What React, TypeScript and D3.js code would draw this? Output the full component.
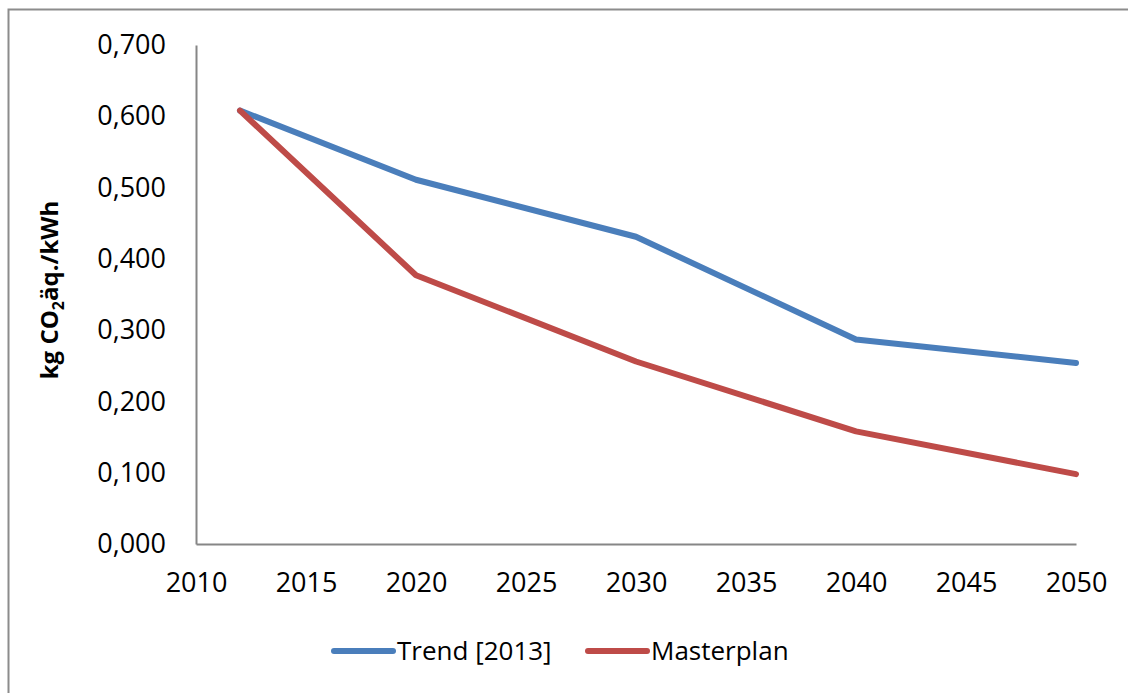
import React, { useEffect, useRef } from 'react';
import * as d3 from 'd3';

// chart values
const years = [2012, 2020, 2030, 2040, 2050];
const trendValues = [0.608, 0.511, 0.431, 0.287, 0.254];
const masterplanValues = [0.608, 0.377, 0.256, 0.158, 0.098];
const xTicks = [2010, 2015, 2020, 2025, 2030, 2035, 2040, 2045, 2050];
const yTicks = [0, 0.1, 0.2, 0.3, 0.4, 0.5, 0.6, 0.7];
const seriesNames = ['Trend [2013]', 'Masterplan'];
const seriesColors = ['#4A7EBB', '#BE4B48'];

const W = 1128;
const H = 693;
const FONT = '"Open Sans", "Liberation Sans", sans-serif';

const App: React.FC = () => {
  const svgRef = useRef<SVGSVGElement>(null);

  useEffect(() => {
    if (!svgRef.current) return;
    const svg = d3.select(svgRef.current);
    svg.selectAll('*').remove();

    const margin = { top: 45, right: 52, bottom: 149, left: 196 };

    const x = d3.scaleLinear().domain([2010, 2050]).range([margin.left, W - margin.right]);
    const y = d3.scaleLinear().domain([0, 0.7]).range([H - margin.bottom, margin.top]);

    // outer chart frame (cropped on right/bottom)
    svg.append('rect')
      .attr('x', 8.5)
      .attr('y', 9.5)
      .attr('width', W + 20)
      .attr('height', H + 20)
      .style('fill', 'white')
      .style('stroke', '#8c8c8c')
      .style('stroke-width', 2);

    const fmt = (v: number) => v.toFixed(3).replace('.', ',');

    // y axis
    const yAxis = d3.axisLeft(y).tickValues(yTicks).tickSize(0).tickPadding(30).tickFormat(d => fmt(+d));
    const gy = svg.append('g').attr('transform', `translate(${margin.left},0)`).call(yAxis);
    gy.select('.domain').attr('stroke', '#868686').attr('stroke-width', 2);
    gy.selectAll('text')
      .style('font-family', FONT)
      .style('font-size', '27px')
      .style('fill', '#000');

    // x axis
    const xAxis = d3.axisBottom(x).tickValues(xTicks).tickSize(0).tickPadding(39).tickFormat(d3.format('d'));
    const gx = svg.append('g').attr('transform', `translate(0,${H - margin.bottom})`).call(xAxis);
    gx.select('.domain').attr('stroke', '#868686').attr('stroke-width', 2);
    gx.selectAll('text')
      .attr('dy', '0.35em')
      .style('font-family', FONT)
      .style('font-size', '27px')
      .style('fill', '#000');

    // y axis title
    const title = svg.append('text')
      .attr('transform', `translate(58, 290) rotate(-90)`)
      .attr('text-anchor', 'middle')
      .style('font-family', FONT)
      .style('font-size', '24px')
      .style('font-weight', 'bold')
      .style('fill', '#000');
    title.append('tspan').text('kg CO');
    title.append('tspan').attr('dy', 6).style('font-size', '16px').text('2');
    title.append('tspan').attr('dy', -6).text('äq./kWh');

    // lines
    const line = d3.line<[number, number]>()
      .x(d => x(d[0]))
      .y(d => y(d[1]));

    [trendValues, masterplanValues].forEach((vals, i) => {
      svg.append('path')
        .datum(years.map((yr, j) => [yr, vals[j]] as [number, number]))
        .attr('d', line)
        .style('fill', 'none')
        .style('stroke', seriesColors[i])
        .style('stroke-width', 6)
        .style('stroke-linecap', 'round')
        .style('stroke-linejoin', 'round');
    });

    // legend
    const legendY = 651;
    const legendX = [334, 588];
    seriesNames.forEach((name, i) => {
      const g = svg.append('g').attr('transform', `translate(${legendX[i]},${legendY})`);
      g.append('line')
        .attr('x1', 0)
        .attr('x2', 59)
        .style('stroke', seriesColors[i])
        .style('stroke-width', 6)
        .style('stroke-linecap', 'round');
      g.append('text')
        .attr('x', 63)
        .attr('dy', '0.35em')
        .style('font-family', FONT)
        .style('font-size', '26px')
        .style('fill', '#000')
        .text(name);
    });
  }, []);

  return (
    <svg
      ref={svgRef}
      width={W}
      height={H}
      style={{ position: 'absolute', left: 0, top: 0, background: 'white' }}
    />
  );
};

export default App;
